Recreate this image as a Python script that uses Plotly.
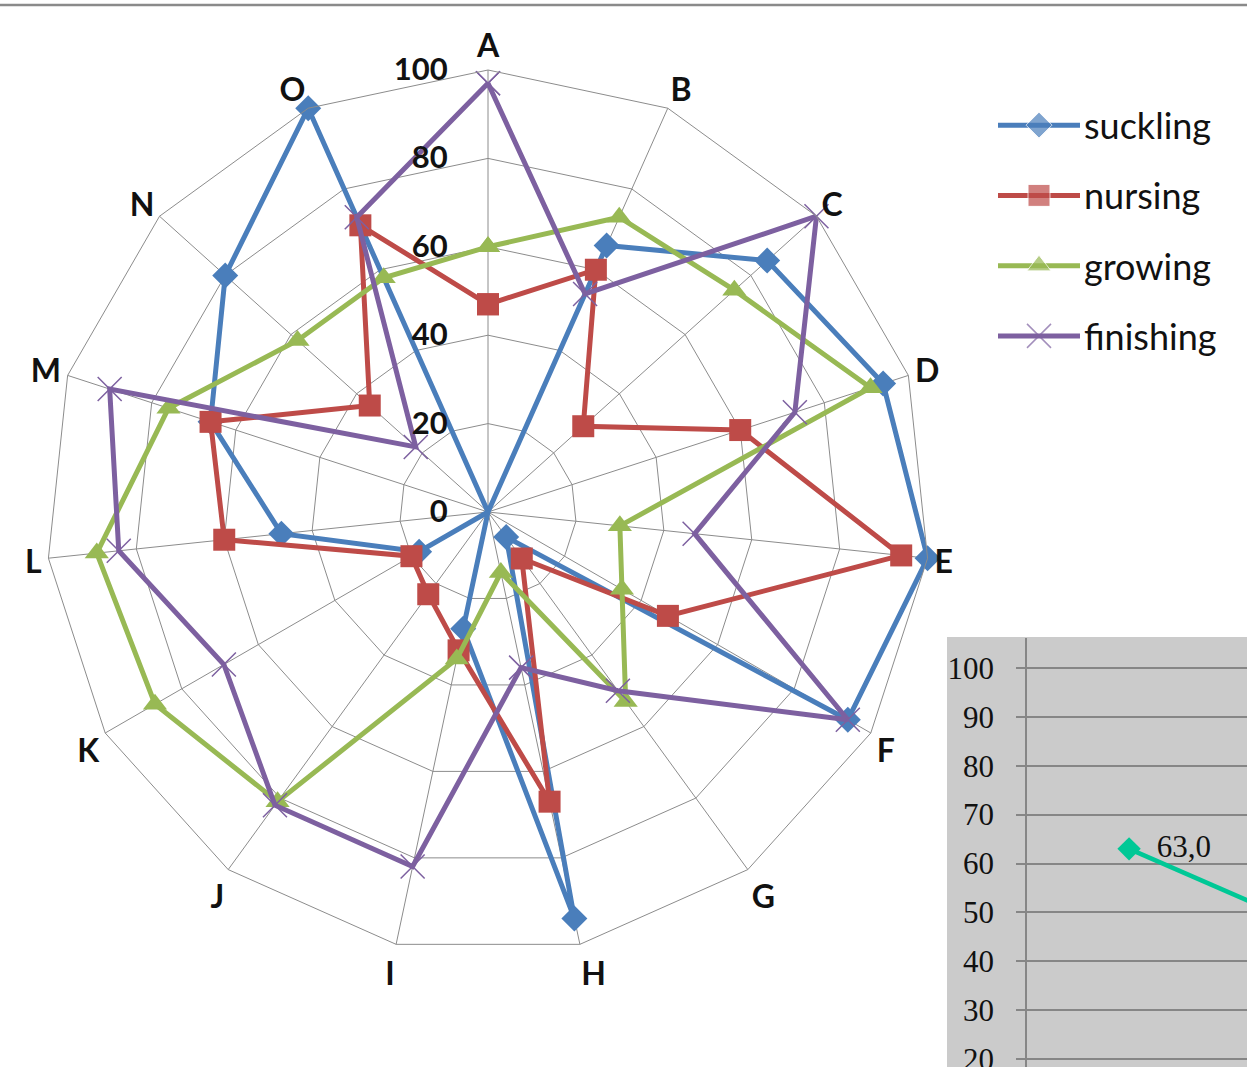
import plotly.graph_objects as go

# ---- data -----------------------------------------------------------------
categories = ["A", "B", "C", "D", "E", "F", "G", "H", "I", "J", "K", "L", "M", "N", "O"]

suckling = [0, 66, 85, 94, 100, 94, 7, 94, 27, 0, 18, 47, 66, 80, 100]
nursing = [47, 60, 29, 60, 94, 47, 13, 67, 32, 23, 20, 60, 66, 36, 71]
growing = [60, 73, 75, 91, 30, 35, 53, 14, 34, 81, 87, 89, 76, 58, 58]
finishing = [97, 54, 100, 73, 47, 94, 50, 36, 82, 82, 69, 84, 90, 22, 73]

series_names = ["suckling", "nursing", "growing", "finishing"]
series_values = [suckling, nursing, growing, finishing]

radial_ticks = [0, 20, 40, 60, 80, 100]

# small line chart in the lower-right corner
inset_x = [1, 2]
inset_y = [63.0, 43.4]
inset_labels = ["  63,0", ""]
inset_ticks = [20, 30, 40, 50, 60, 70, 80, 90, 100]

# ---- styling --------------------------------------------------------------
W, H = 1247, 1067
colors = ["#4A7EBB", "#BE4B48", "#98B954", "#7D60A0"]
symbols = ["diamond", "square", "triangle-up", "x-thin"]
sizes = [20, 22, 21, 24]
LABEL_FONT = "Lato"


def px(x):
    return x / W


def py(y):
    return 1 - y / H


fig = go.Figure()

for name, vals, col, sym, sz in zip(series_names, series_values, colors, symbols, sizes):
    marker = dict(symbol=sym, size=sz, color=col)
    if sym == "x-thin":
        marker["line"] = dict(color=col, width=1.5)
    fig.add_trace(go.Scatterpolar(
        r=vals + vals[:1],
        theta=categories + categories[:1],
        mode="lines+markers",
        name=name,
        line=dict(color=col, width=5),
        marker=marker,
        showlegend=False,
    ))

# legend drawn as line samples with a centred marker
for i, (name, col, sym, sz) in enumerate(zip(series_names, colors, symbols, sizes)):
    marker = dict(symbol=sym, size=[0, sz, 0], color=col)
    if sym == "x-thin":
        marker["line"] = dict(color=col, width=1.5)
    fig.add_trace(go.Scatter(
        x=[0, 0.5, 1], y=[i, i, i], mode="lines+markers",
        line=dict(color=col, width=5), marker=marker,
        xaxis="x3", yaxis="y3", showlegend=False, hoverinfo="skip",
    ))
    fig.add_annotation(
        x=px(1082), y=i, xref="paper", yref="y3", text=name, showarrow=False,
        xanchor="left", yanchor="middle",
        font=dict(family=LABEL_FONT, size=36, color="#111111"),
    )

# inset line chart
fig.add_trace(go.Scatter(
    x=inset_x, y=inset_y, mode="lines+markers+text",
    text=inset_labels, textposition="middle right",
    textfont=dict(family="Liberation Serif", size=31, color="#111111"),
    line=dict(color="#00C896", width=4.5),
    marker=dict(symbol="diamond", size=18, color="#00C896"),
    xaxis="x2", yaxis="y2", showlegend=False, cliponaxis=True,
))

grid_col = "#8C8C8C"

fig.update_layout(
    width=W, height=H,
    margin=dict(l=0, r=0, t=0, b=0, autoexpand=False),
    paper_bgcolor="white",
    plot_bgcolor="rgba(0,0,0,0)",
    showlegend=False,
    polar=dict(
        domain=dict(x=[px(46), px(930)], y=[py(954), py(70)]),
        bgcolor="white",
        gridshape="linear",
        angularaxis=dict(
            categoryorder="array", categoryarray=categories,
            rotation=90, direction="clockwise",
            showline=True, linecolor=grid_col, linewidth=1,
            showgrid=True, gridcolor=grid_col, gridwidth=1,
            ticks="", tickfont=dict(family=LABEL_FONT, size=32, color="#111111", weight="bold"),
        ),
        radialaxis=dict(
            range=[0, 100], tickvals=radial_ticks, angle=90,
            showline=False, showgrid=True, gridcolor=grid_col, gridwidth=1,
            ticks="outside", ticklen=29, tickcolor="rgba(0,0,0,0)",
            tickangle=90, side="counterclockwise",
            tickfont=dict(family=LABEL_FONT, size=31, color="#111111", weight="bold"),
        ),
    ),
    xaxis2=dict(
        domain=[px(1027), 1.0], range=[0.536, 1.536], anchor="y2",
        visible=False,
    ),
    yaxis2=dict(
        domain=[0.0, py(638)], range=[18.36, 106.14], anchor="x2",
        tickvals=inset_ticks, showgrid=True, gridcolor="#868686", gridwidth=1.5,
        showline=True, linecolor="#868686", linewidth=1.5,
        ticks="outside", ticklen=9, tickcolor="#868686", tickwidth=1.5,
        ticklabelstandoff=16, ticklabeloverflow="allow", automargin=False,
        zeroline=False,
        tickfont=dict(family="Liberation Serif", size=31, color="#111111"),
    ),
    xaxis3=dict(domain=[px(998), px(1080)], range=[0, 1], anchor="y3", visible=False),
    yaxis3=dict(domain=[py(371), py(90)], range=[3.5, -0.5], anchor="x3", visible=False),
    shapes=[
        dict(type="rect", xref="paper", yref="paper", x0=px(947), x1=1.0,
             y0=0.0, y1=py(637), fillcolor="#CBCBCB", line=dict(width=0), layer="below"),
        dict(type="line", xref="paper", yref="paper", x0=0, x1=1,
             y0=py(5), y1=py(5), line=dict(color="#8A8A8A", width=2.5)),
    ],
)

fig.write_html("out.html")
